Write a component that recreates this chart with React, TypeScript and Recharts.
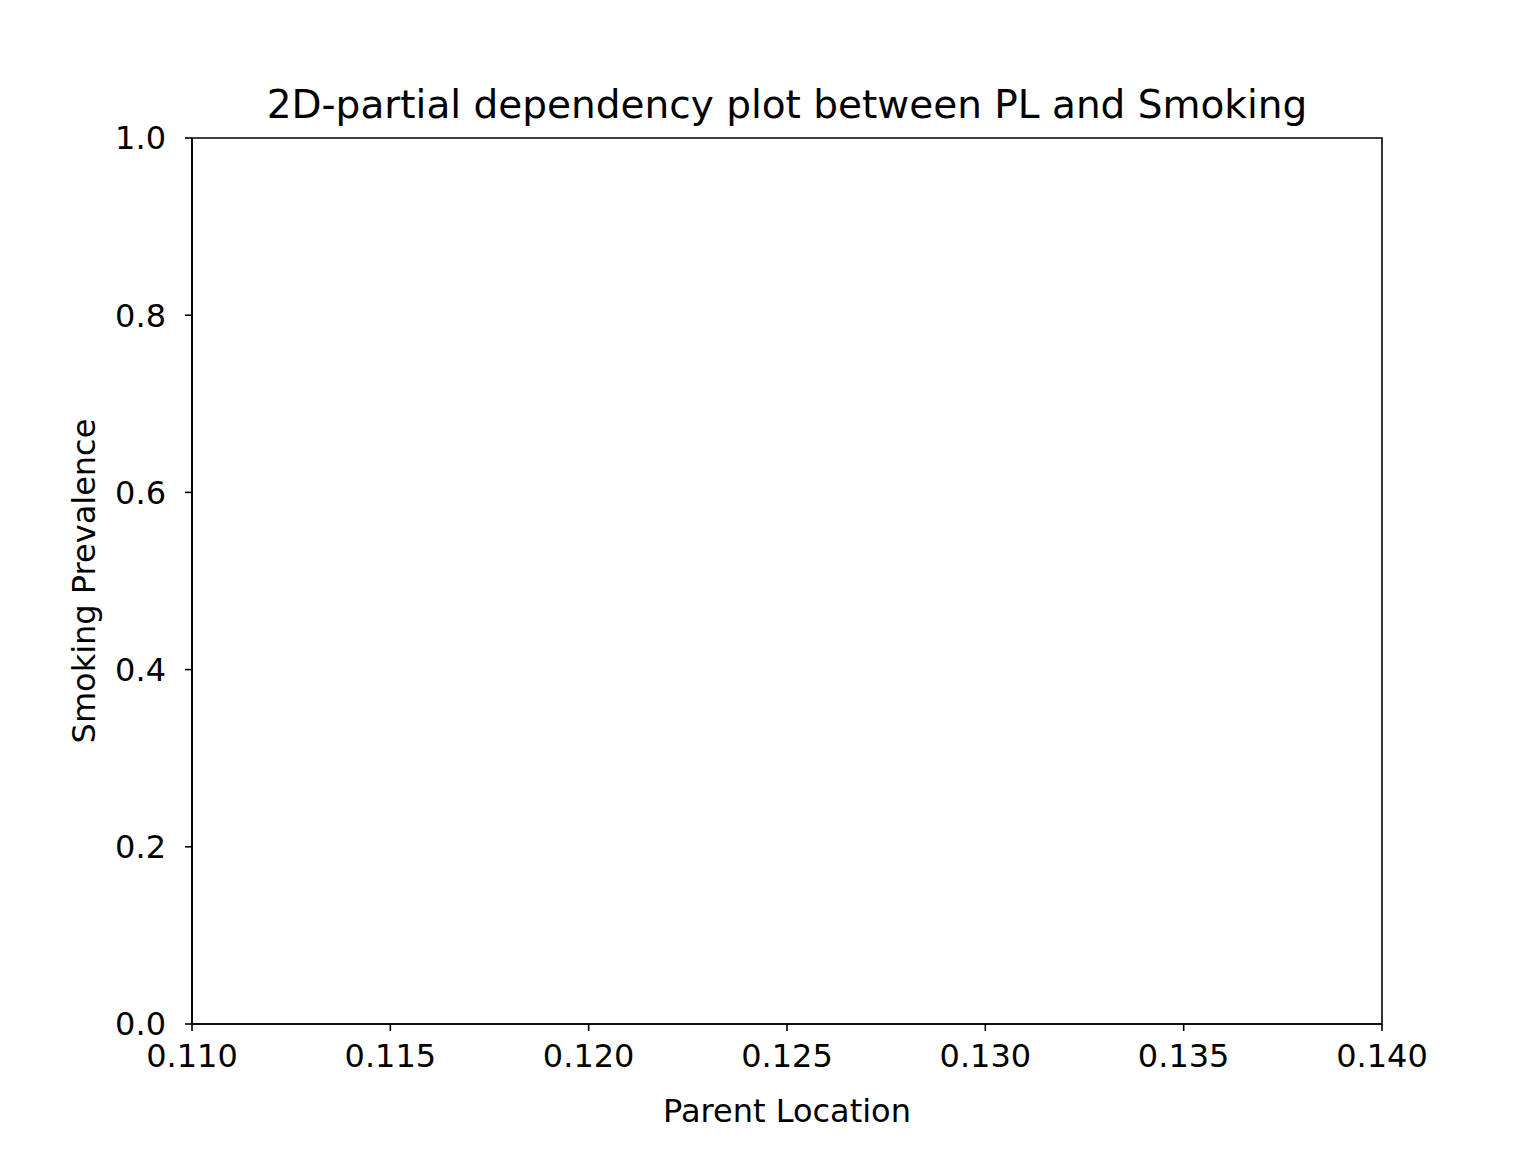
import React from "react";
import { ScatterChart, Scatter, XAxis, YAxis, ReferenceArea, Label } from "recharts";

const xTicks = [0.11, 0.115, 0.12, 0.125, 0.13, 0.135, 0.14];
const yTicks = [0, 0.2, 0.4, 0.6, 0.8, 1.0];
const points: { x: number; y: number }[] = [];

const font = "DejaVu Sans, sans-serif";

export default function App() {
  return (
    <div style={{ position: "absolute", left: 0, top: 0, width: 1536, height: 1152, background: "#fff", fontFamily: font }}>
      <div style={{ position: "absolute", left: 192, width: 1190, top: 82, textAlign: "center", fontSize: 39, lineHeight: "46px", color: "#000" }}>
        2D-partial dependency plot between PL and Smoking
      </div>
      <ScatterChart width={1536} height={1152} margin={{ top: 138, right: 154, bottom: 28, left: 32 }}>
        <XAxis
          type="number"
          dataKey="x"
          domain={[0.11, 0.14]}
          ticks={xTicks}
          tickFormatter={(v: number) => v.toFixed(3)}
          height={100}
          tickSize={7}
          tickMargin={13}
          stroke="#000"
          strokeWidth={1.6}
          tick={{ fill: "#000", fontSize: 32, fontFamily: font }}
          allowDataOverflow
        >
          <Label value="Parent Location" position="insideBottom" offset={2} style={{ fill: "#000", fontSize: 32, fontFamily: font }} />
        </XAxis>
        <YAxis
          type="number"
          dataKey="y"
          domain={[0, 1]}
          ticks={yTicks}
          tickFormatter={(v: number) => v.toFixed(1)}
          width={160}
          tickSize={7}
          tickMargin={19}
          stroke="#000"
          strokeWidth={1.6}
          tick={{ fill: "#000", fontSize: 32, fontFamily: font }}
          allowDataOverflow
        >
          <Label value="Smoking Prevalence" angle={-90} position="insideLeft" offset={52} style={{ fill: "#000", fontSize: 32, fontFamily: font, textAnchor: "middle" }} />
        </YAxis>
        <ReferenceArea x1={0.11} x2={0.14} y1={0} y2={1} fill="none" stroke="#000" strokeWidth={1.6} ifOverflow="visible" />
        <Scatter data={points} fill="#1f77b4" isAnimationActive={false} />
      </ScatterChart>
    </div>
  );
}
